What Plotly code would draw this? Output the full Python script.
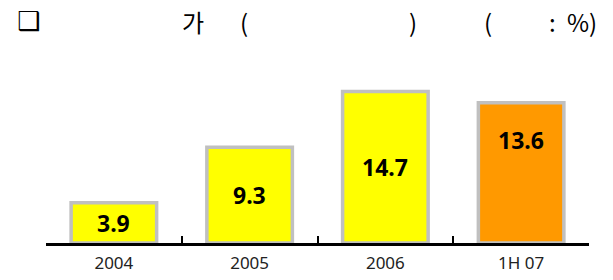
import plotly.graph_objects as go

categories = ["2004", "2005", "2006", "1H 07"]
values = [3.9, 9.3, 14.7, 13.6]
bar_colors = ["#FFFF00", "#FFFF00", "#FFFF00", "#FF9900"]
labels = ["3.9", "9.3", "14.7", "13.6"]

fig = go.Figure()
fig.add_trace(go.Bar(
    x=categories, y=values,
    marker=dict(color=bar_colors, line=dict(color="#C0C0C0", width=3.5)),
    hoverinfo="skip",
))

label_font = dict(family="Noto Sans, Open Sans, sans-serif", size=23, color="#000000")
for i, (v, t) in enumerate(zip(values, labels)):
    if i == len(categories) - 1:
        fig.add_annotation(x=i, y=v, text="<b>%s</b>" % t, showarrow=False,
                           yanchor="top", yshift=-19, font=label_font)
    else:
        fig.add_annotation(x=i, y=v / 2, text="<b>%s</b>" % t, showarrow=False,
                           yanchor="middle", font=label_font)

title_font = dict(family="Noto Sans CJK KR, DejaVu Sans, sans-serif", size=24, color="#000000")
box_font = dict(family="DejaVu Sans, sans-serif", size=26, color="#000000")
title_parts = [("❑", 29), ("가", 193), ("(", 244), (")", 413), ("(", 488), (":", 552), ("%)", 582)]
for txt, px in title_parts:
    fig.add_annotation(xref="paper", yref="paper", x=(px - 46) / 543, y=1 + (75 - 21) / 168,
                       text=("<b>%s</b>" % txt) if txt == "❑" else txt,
                       showarrow=False, xanchor="center", yanchor="middle",
                       font=box_font if txt == "❑" else title_font)

fig.update_layout(
    width=613, height=280,
    margin=dict(l=46, r=24, t=75, b=37),
    paper_bgcolor="white", plot_bgcolor="white",
    bargap=0.37, showlegend=False,
)
fig.update_xaxes(
    type="category", tickson="boundaries", ticks="inside", ticklen=7, tickwidth=2,
    tickcolor="#000000", showline=True, linecolor="#000000", linewidth=2.5,
    showgrid=False, zeroline=False, automargin=False, ticklabelstandoff=3,
    tickfont=dict(family="Noto Sans, Open Sans, sans-serif", size=17, color="#222222"),
    range=[-0.5, 3.5],
)
fig.update_yaxes(range=[0, 16.3], visible=False, showgrid=False, zeroline=False, automargin=False)

fig.write_html("out.html", config={"displayModeBar": False},
               post_script="document.body.style.margin='0';")
